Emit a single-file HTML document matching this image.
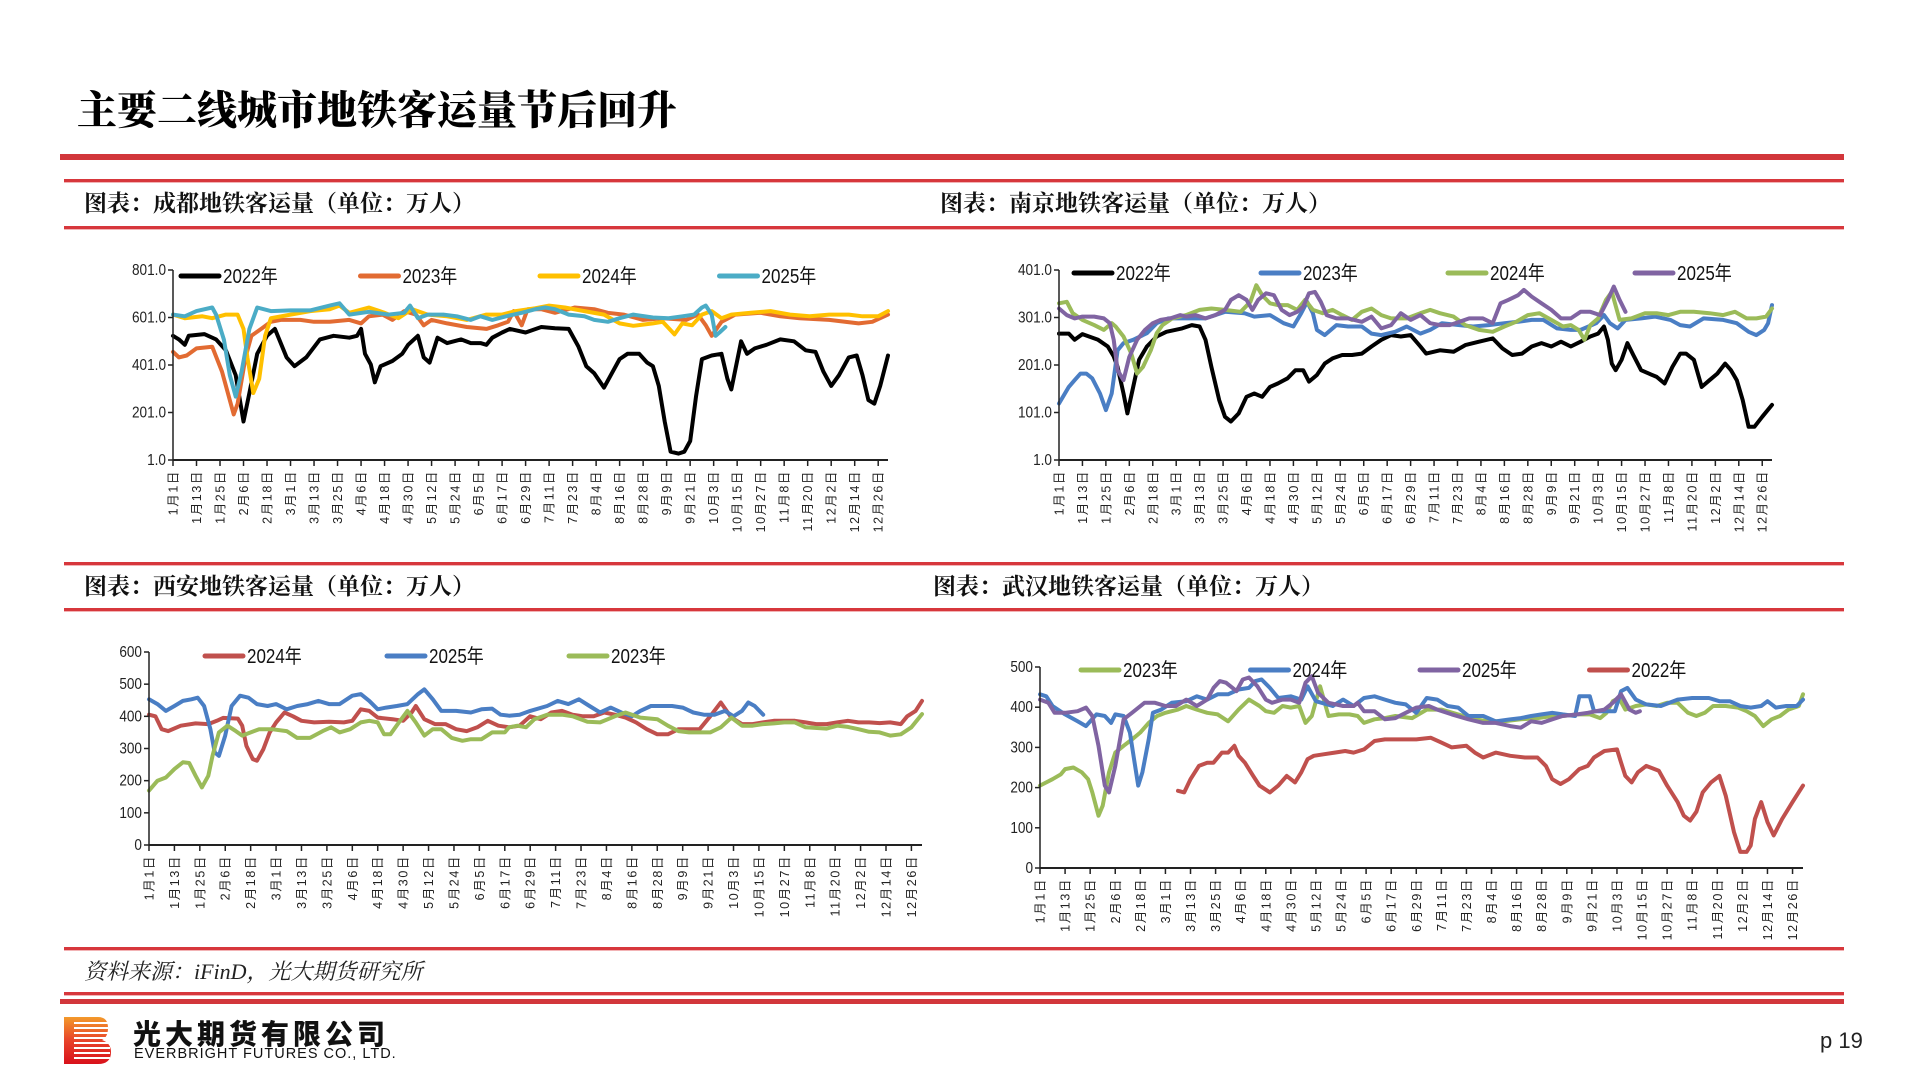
<!DOCTYPE html>
<html><head><meta charset="utf-8">
<style>
html,body{margin:0;padding:0;background:#fff;}
body{width:1920px;height:1080px;position:relative;overflow:hidden;font-family:"Liberation Sans","Noto Sans CJK SC",sans-serif;}
.abs{position:absolute;}
.rl{position:absolute;background:#D7373C;height:3px;box-shadow:0 1px 0 #f2b3b5;}
.ct{position:absolute;font-family:"Liberation Serif","Noto Serif CJK SC",serif;font-weight:bold;font-size:23px;line-height:26px;color:#111;}
</style></head>
<body>
<div class="abs" style="left:77px;top:88px;font-family:'Liberation Serif','Noto Serif CJK SC',serif;font-weight:900;font-size:40px;line-height:46px;color:#000;">主要二线城市地铁客运量节后回升</div>
<div class="abs" style="left:60px;top:154px;width:1784px;height:6px;background:#D2363B;"></div>
<div class="rl" style="left:64px;top:179px;width:1780px;"></div>
<div class="rl" style="left:64px;top:226px;width:1780px;"></div>
<div class="rl" style="left:64px;top:562px;width:1780px;"></div>
<div class="rl" style="left:64px;top:608px;width:1780px;"></div>
<div class="rl" style="left:64px;top:947px;width:1780px;"></div>
<div class="rl" style="left:64px;top:992px;width:1780px;"></div>
<div class="abs" style="left:60px;top:999px;width:1784px;height:5px;background:#D2363B;"></div>
<div class="ct" style="left:84px;top:191px;">图表：成都地铁客运量（单位：万人）</div>
<div class="ct" style="left:940px;top:191px;">图表：南京地铁客运量（单位：万人）</div>
<div class="ct" style="left:84px;top:574px;">图表：西安地铁客运量（单位：万人）</div>
<div class="ct" style="left:933px;top:574px;">图表：武汉地铁客运量（单位：万人）</div>
<div class="abs" style="left:84px;top:959px;font-style:italic;font-size:22px;line-height:26px;color:#222;font-family:'Liberation Serif','Noto Serif CJK SC',serif;">资料来源：iFinD，光大期货研究所</div>
<svg class="abs" style="left:64px;top:1017px;" width="48" height="47" viewBox="0 0 48 47">
<defs><linearGradient id="lg" x1="0" y1="0" x2="0" y2="1"><stop offset="0" stop-color="#F39A2B"/><stop offset="0.5" stop-color="#E8432A"/><stop offset="1" stop-color="#D8111B"/></linearGradient></defs>
<path d="M0 0H34Q44 0 44 11Q44 20 38 23Q47 26 47 35Q47 47 34 47H0Z" fill="url(#lg)"/>
<g fill="#fff"><rect x="10" y="5" width="36" height="2"/><rect x="10" y="10" width="36" height="2"/><rect x="10" y="15" width="36" height="2"/><rect x="10" y="20" width="36" height="2"/><rect x="10" y="25" width="36" height="2"/><rect x="10" y="30" width="36" height="2"/><rect x="10" y="35" width="36" height="2"/><rect x="10" y="40" width="36" height="2"/></g>
</svg>
<div class="abs" style="left:133px;top:1018px;font-family:'Noto Sans CJK SC',sans-serif;font-weight:900;font-size:28px;line-height:30px;color:#111;letter-spacing:4px;">光大期货有限公司</div>
<div class="abs" style="left:134px;top:1046px;font-size:14.5px;line-height:16px;color:#111;letter-spacing:1px;">EVERBRIGHT FUTURES CO., LTD.</div>
<div class="abs" style="left:1820px;top:1028px;font-family:'Liberation Sans Narrow','Liberation Sans',sans-serif;font-size:22px;color:#222;">p 19</div>

<svg id="charts" class="abs" style="left:0;top:0;" width="1920" height="1080"></svg>

<script>
// ---- shared ----
const tickLabels = ["1月1日","1月13日","1月25日","2月6日","2月18日","3月1日","3月13日","3月25日","4月6日","4月18日","4月30日","5月12日","5月24日","6月5日","6月17日","6月29日","7月11日","7月23日","8月4日","8月16日","8月28日","9月9日","9月21日","10月3日","10月15日","10月27日","11月8日","11月20日","12月2日","12月14日","12月26日"];

// ---- Chengdu ----
const cdYTicks = [1, 201, 401, 601, 801];
const cdYLabels = ["1.0","201.0","401.0","601.0","801.0"];
const cdSeriesNames = ["2022年","2023年","2024年","2025年"];
const cd22Days = [0,3,6,8,16,22,27,32,36,39,43,48,52,58,62,68,75,82,90,94,96,98,101,103,106,112,117,120,125,128,131,135,140,147,152,157,160,163,168,172,180,188,195,202,207,211,215,220,224,228,232,238,242,245,248,251,254,258,261,264,267,270,275,280,283,285,290,293,297,303,310,317,323,328,332,336,340,345,349,352,355,358,361,365];
const cd22Vals = [524,509,486,524,531,509,463,358,163,283,448,524,553,433,396,433,509,524,516,524,553,448,403,328,396,418,448,486,524,433,411,516,493,509,493,493,486,516,538,553,538,561,556,553,478,396,366,306,366,426,448,448,411,396,313,163,36,28,36,81,268,426,441,448,343,298,501,448,471,486,509,501,463,456,373,313,358,433,441,358,253,238,313,441];
const cd23Days = [0,3,7,12,20,25,29,31,33,37,40,45,50,55,65,72,80,90,96,100,107,112,118,124,128,132,140,150,160,166,171,174,178,181,188,195,205,215,222,230,240,250,262,268,272,275,280,287,300,310,320,335,350,357,365];
const cd23Vals = [456,433,441,471,478,373,253,193,238,433,524,553,583,591,591,583,583,591,576,606,613,591,628,613,568,591,576,561,553,568,583,628,568,636,636,621,643,636,621,613,591,598,591,613,568,524,583,613,621,606,598,591,576,583,613];
const cd24Days = [0,6,15,20,27,33,36,38,41,44,47,50,60,70,80,85,90,100,108,115,122,130,140,150,160,168,175,185,192,200,210,220,228,235,245,250,256,260,265,270,275,280,285,295,305,315,325,335,345,352,360,365];
const cd24Vals = [613,598,606,598,613,613,553,433,283,343,524,598,613,628,636,651,621,643,621,598,636,613,606,591,613,613,628,640,651,643,628,613,576,566,576,583,530,576,568,613,628,598,613,621,628,613,606,613,613,606,606,628];
const cd25Days = [0,6,12,20,22,26,29,32,35,39,43,50,60,70,80,85,90,100,110,118,121,125,130,138,145,152,157,163,170,178,185,190,195,202,210,215,222,228,235,245,253,260,266,270,272,275,277,279,282];
const cd25Vals = [613,606,628,643,613,508,358,268,373,553,643,628,631,631,651,661,613,625,613,621,651,598,613,613,606,591,606,591,606,621,636,643,636,613,606,591,583,598,613,601,598,606,613,643,651,613,524,538,561];

// ---- Nanjing ----
const njYTicks = [1,101,201,301,401];
const njYLabels = ["1.0","101.0","201.0","301.0","401.0"];
const njSeriesNames = ["2022年","2023年","2024年","2025年"];
const nj22Days = [0,5,8,12,20,25,28,30,33,35,38,41,45,50,55,63,68,72,75,78,82,85,88,92,96,100,104,108,112,117,121,125,128,132,136,140,145,150,155,160,165,170,175,180,185,188,195,202,208,215,222,227,232,237,242,247,252,257,262,267,272,276,279,281,283,285,288,291,294,298,302,306,310,314,318,321,325,329,333,337,341,344,347,350,353,356,360,365];
const nj22Vals = [267,267,254,266,254,240,219,197,141,99,155,212,240,261,271,278,285,282,254,197,127,92,82,99,134,141,134,155,162,173,190,190,166,180,204,215,222,222,225,240,254,264,261,264,240,225,232,229,243,250,257,236,222,225,240,247,240,250,240,250,261,267,282,254,204,190,212,247,222,190,183,176,162,197,225,225,212,155,169,183,204,190,169,127,71,71,92,117];
const nj23Days = [0,3,5,8,11,14,17,21,24,27,30,33,38,45,50,56,65,75,85,95,100,108,115,120,124,127,130,132,136,142,148,155,160,165,172,178,185,190,196,205,212,220,228,235,242,248,255,262,267,275,279,282,286,290,298,305,313,318,323,330,340,347,353,357,361,363,365];
const nj23Vals = [120,141,155,169,183,183,173,141,106,141,232,247,254,268,289,299,299,299,313,310,303,306,289,282,310,334,310,275,264,285,282,282,267,264,271,282,267,275,289,285,282,285,289,292,296,296,278,275,275,289,306,289,278,296,299,303,296,285,282,299,296,289,271,264,275,289,327];
const nj24Days = [0,4,7,12,18,23,27,29,33,37,40,43,47,50,53,58,65,72,78,85,93,98,101,104,108,112,117,122,126,130,135,140,145,150,155,160,165,170,178,185,190,195,202,208,215,222,228,234,240,246,252,258,262,266,269,272,276,280,283,287,293,300,306,312,318,325,333,340,346,352,357,362,365];
const nj24Vals = [331,334,310,296,285,275,289,282,261,225,183,197,232,268,285,299,306,317,320,317,313,334,369,348,331,327,327,317,338,317,310,317,306,296,313,320,306,299,299,310,317,310,303,285,275,271,282,292,306,310,296,282,285,275,254,285,299,338,355,296,299,310,310,306,313,313,310,306,313,299,299,303,320];
const nj25Days = [0,4,8,12,18,23,26,28,30,33,36,40,44,48,52,57,62,65,70,75,80,85,88,92,96,99,102,106,110,114,118,122,125,128,131,134,137,142,148,155,160,165,170,175,180,185,190,195,200,210,217,222,226,230,235,238,242,247,252,257,262,267,272,277,281,284,287,290];
const nj25Vals = [320,306,299,303,303,299,289,254,190,169,218,254,275,289,296,299,306,303,306,299,306,317,338,348,338,317,338,352,348,317,306,313,324,352,355,334,306,299,299,292,303,278,285,310,296,306,289,285,285,299,299,289,331,338,348,359,345,331,317,299,299,313,313,306,338,366,338,313];

// ---- Xi'an ----
const xaYTicks = [0,100,200,300,400,500,600];
const xaYLabels = ["0","100","200","300","400","500","600"];
const xaSeriesNames = ["2024年","2025年","2023年"];
const xa24Days = [0,3,6,9,15,22,28,32,35,42,44,46,49,51,54,57,60,64,68,72,78,85,92,96,100,104,108,115,120,124,126,130,135,140,145,150,155,160,165,170,175,180,185,190,195,200,205,210,215,220,225,230,235,240,245,250,255,260,265,270,275,280,285,290,295,300,305,310,315,320,325,330,335,340,345,350,355,358,362,365];
const xa24Vals = [405,400,360,354,371,378,376,386,395,393,371,308,267,262,298,350,381,412,400,386,381,383,381,386,422,417,396,391,386,412,432,391,376,376,360,354,366,386,371,366,371,400,391,412,417,405,400,400,412,405,396,381,360,344,344,360,360,360,400,443,396,376,376,381,386,386,386,381,376,376,381,386,381,381,379,381,376,400,417,448];
const xa25Days = [0,4,8,12,16,20,23,26,29,31,33,36,39,43,47,51,56,60,65,70,75,80,85,90,96,100,104,108,112,117,122,127,130,134,138,145,152,157,162,166,170,175,180,188,193,198,203,208,213,218,223,228,232,237,242,247,252,257,262,267,272,276,280,283,286,290];
const xa25Vals = [453,438,417,432,448,453,458,432,360,288,277,340,432,464,458,438,432,438,422,432,438,448,438,438,464,469,448,422,427,432,438,469,484,453,417,417,412,422,424,405,402,405,417,432,448,438,453,432,412,427,412,400,417,432,432,432,427,412,405,405,417,400,417,443,432,405];
const xa23Days = [0,4,8,12,16,19,22,25,28,30,33,37,41,44,48,52,58,65,70,76,82,86,90,95,100,104,108,111,114,118,122,126,130,134,138,143,148,152,157,162,168,170,174,178,182,188,195,200,207,213,220,225,232,240,245,250,255,260,265,270,275,280,285,290,295,300,305,310,320,325,330,335,340,345,350,355,360,365];
const xa23Vals = [169,200,210,236,257,255,215,179,215,277,350,371,354,340,350,360,360,354,333,333,354,366,350,360,381,386,381,344,344,381,417,381,340,360,360,333,324,329,329,350,350,366,371,366,391,405,405,400,383,381,400,412,396,391,371,354,350,350,350,366,396,371,371,376,378,381,381,366,362,371,367,360,352,350,340,344,366,407];

// ---- Wuhan ----
const whYTicks = [0,100,200,300,400,500];
const whYLabels = ["0","100","200","300","400","500"];
const whSeriesNames = ["2023年","2024年","2025年","2022年"];
const wh23Days = [0,3,6,10,12,16,20,23,25,28,30,33,36,40,44,48,52,56,60,66,70,75,80,85,90,95,100,105,108,112,116,120,124,127,130,134,138,143,148,152,155,160,165,170,178,185,192,200,208,215,222,230,238,245,250,257,263,268,271,274,277,280,285,290,295,300,305,310,314,318,322,328,334,338,342,346,350,354,358,363,365];
const wh23Vals = [205,213,221,233,246,250,238,221,188,130,155,238,287,304,320,337,361,378,386,394,403,394,386,382,365,394,419,403,390,386,403,399,403,361,378,452,378,382,382,378,361,370,373,378,373,394,394,382,370,365,365,370,373,378,378,382,382,373,386,415,423,394,403,407,403,411,411,386,378,386,403,403,399,390,378,353,370,378,394,403,432];
const wh24Days = [0,3,6,12,18,22,27,31,34,36,40,43,45,47,49,52,54,58,63,70,75,80,85,90,95,100,103,106,110,114,120,125,128,132,140,145,150,155,160,165,170,175,180,185,190,195,200,205,212,218,225,230,235,240,245,250,256,258,263,265,270,275,278,281,285,290,297,305,312,320,325,330,335,340,345,348,352,357,362,365];
const wh24Vals = [432,427,403,382,365,353,382,378,361,382,378,337,270,205,238,320,386,394,411,415,427,419,432,432,444,448,465,469,448,423,427,419,452,415,403,419,403,423,427,419,411,407,386,423,419,403,399,378,378,365,370,373,378,382,386,382,378,427,427,390,390,390,440,448,419,407,403,419,423,423,415,415,403,399,403,415,399,403,403,419];
const wh25Days = [0,4,7,12,18,22,25,28,31,33,36,40,44,50,55,60,65,70,75,80,83,86,89,94,97,100,104,108,111,116,120,124,127,130,133,138,145,150,152,155,160,165,170,175,180,186,190,197,205,212,218,225,230,235,240,245,250,257,262,266,270,274,278,282,285,287];
const wh25Vals = [419,411,386,386,390,399,378,304,205,188,254,370,386,411,411,403,403,419,403,419,448,465,461,440,469,474,452,419,411,419,419,411,461,477,436,411,403,403,411,390,390,370,373,386,399,403,394,382,370,361,361,353,349,365,361,370,378,382,386,390,394,411,432,394,386,390];
const wh22Days = [66,69,72,76,80,83,87,90,93,95,98,102,105,110,114,118,122,125,128,131,136,141,146,150,155,160,165,170,180,187,192,197,204,208,212,218,225,232,238,242,245,249,253,258,262,265,270,276,278,280,283,286,290,292,296,300,305,308,311,314,317,321,325,328,332,335,338,340,342,345,348,351,355,360,365];
const wh22Vals = [192,188,221,254,262,262,287,287,304,279,262,229,205,188,205,229,213,238,271,279,283,287,291,287,295,316,320,320,320,324,312,300,304,287,275,287,279,275,275,254,221,209,221,246,254,275,291,295,262,229,213,238,254,250,242,205,164,130,118,140,188,213,229,180,89,40,40,56,122,164,114,81,122,164,205];

// ---- drawing ----
const NS = "http://www.w3.org/2000/svg";
const svg = document.getElementById("charts");
function mk(tag, attrs, parent) {
  const e = document.createElementNS(NS, tag);
  for (const k in attrs) e.setAttribute(k, attrs[k]);
  (parent || svg).appendChild(e);
  return e;
}
function drawChart(cfg) {
  const g = mk("g", {});
  
  
  const xs = d => cfg.x0 + (cfg.x1 - cfg.x0) * d / 365;
  const ys = v => cfg.yBot - (cfg.yBot - cfg.yTop) * (v - cfg.yMin) / (cfg.yMax - cfg.yMin);
  cfg.series.forEach((s, i) => {
    let d = "";
    s.days.forEach((dd, j) => { d += (j ? "L" : "M") + xs(dd).toFixed(1) + " " + ys(s.vals[j]).toFixed(1); });
    const p = mk("path", {d: d, fill: "none", stroke: s.color, "stroke-width": 4, "stroke-linejoin": "round", "stroke-linecap": "round"}, g);
    
    
  });
  const ya = mk("line", {x1: cfg.x0, y1: cfg.yTop, x2: cfg.x0, y2: cfg.yBot, stroke: "#222", "stroke-width": 1.5}, g);
  
  
  const xa = mk("line", {x1: cfg.x0, y1: cfg.yBot, x2: cfg.x1, y2: cfg.yBot, stroke: "#222", "stroke-width": 2}, g);
  
  
  cfg.yTicks.forEach((v, i) => {
    const y = ys(v);
    mk("line", {x1: cfg.x0 - 5, y1: y, x2: cfg.x0, y2: y, stroke: "#222", "stroke-width": 1.5}, g);
    const t = mk("text", {x: cfg.x0 - 7, y: y + 5, "text-anchor": "end", "font-size": 16, fill: "#222", "font-family": "'Liberation Sans Narrow','Liberation Sans',sans-serif", transform: "translate(" + (cfg.x0 - 7) * 0.15 + " 0) scale(0.85 1)"}, g);
    
    
    t.textContent = cfg.yLabels[i];
  });
  tickLabels.forEach((lab, i) => {
    const x = xs(i * 12);
    mk("line", {x1: x, y1: cfg.yBot, x2: x, y2: cfg.yBot + 6, stroke: "#222", "stroke-width": 1.5}, g);
    const t = mk("text", {transform: "translate(" + (x + 4.5) + " " + (cfg.yBot + 10) + ") rotate(-90)", "text-anchor": "end", "font-size": 12.5, "letter-spacing": 1.6, fill: "#222", "font-family": "'Liberation Sans','Noto Sans CJK SC',sans-serif"}, g);
    
    
    t.textContent = lab;
  });
  cfg.series.forEach((s, i) => {
    const lx = cfg.legX + i * cfg.legGap;
    const lg = mk("g", {}, g);
    
    
    mk("line", {x1: lx, y1: cfg.legY, x2: lx + 38, y2: cfg.legY, stroke: s.color, "stroke-width": 5, "stroke-linecap": "round"}, lg);
    const t = mk("text", {x: (lx + 42) / 0.85, y: cfg.legY + 7, "font-size": 20, fill: "#111", transform: "scale(0.85 1)", "font-family": "'Liberation Sans Narrow','Liberation Sans','Noto Sans CJK SC',sans-serif"}, lg);
    t.textContent = s.name;
  });
}

drawChart({name: "chengdu-chart", x0: 173, x1: 888, yTop: 270, yBot: 460, yMin: 1, yMax: 801,
  yTicks: cdYTicks, yLabels: cdYLabels, legX: 181, legY: 276, legGap: 179.5,
  series: [
    {name: cdSeriesNames[0], color: "#000000", days: cd22Days, vals: cd22Vals},
    {name: cdSeriesNames[1], color: "#E26B32", days: cd23Days, vals: cd23Vals},
    {name: cdSeriesNames[2], color: "#FFC000", days: cd24Days, vals: cd24Vals},
    {name: cdSeriesNames[3], color: "#4BACC6", days: cd25Days, vals: cd25Vals}]});
drawChart({name: "nanjing-chart", x0: 1059, x1: 1772, yTop: 270, yBot: 460, yMin: 1, yMax: 401,
  yTicks: njYTicks, yLabels: njYLabels, legX: 1074, legY: 273, legGap: 187,
  series: [
    {name: njSeriesNames[0], color: "#000000", days: nj22Days, vals: nj22Vals},
    {name: njSeriesNames[1], color: "#4A7EC4", days: nj23Days, vals: nj23Vals},
    {name: njSeriesNames[2], color: "#9BBB59", days: nj24Days, vals: nj24Vals},
    {name: njSeriesNames[3], color: "#8064A2", days: nj25Days, vals: nj25Vals}]});
drawChart({name: "xian-chart", x0: 149, x1: 922, yTop: 652, yBot: 845, yMin: 0, yMax: 600,
  yTicks: xaYTicks, yLabels: xaYLabels, legX: 205, legY: 656, legGap: 182,
  series: [
    {name: xaSeriesNames[0], color: "#C0504D", days: xa24Days, vals: xa24Vals},
    {name: xaSeriesNames[1], color: "#4A7EC4", days: xa25Days, vals: xa25Vals},
    {name: xaSeriesNames[2], color: "#9BBB59", days: xa23Days, vals: xa23Vals}]});
drawChart({name: "wuhan-chart", x0: 1040, x1: 1803, yTop: 667, yBot: 868, yMin: 0, yMax: 500,
  yTicks: whYTicks, yLabels: whYLabels, legX: 1081, legY: 670, legGap: 169.5,
  series: [
    {name: whSeriesNames[0], color: "#9BBB59", days: wh23Days, vals: wh23Vals},
    {name: whSeriesNames[1], color: "#4A7EC4", days: wh24Days, vals: wh24Vals},
    {name: whSeriesNames[2], color: "#8064A2", days: wh25Days, vals: wh25Vals},
    {name: whSeriesNames[3], color: "#C0504D", days: wh22Days, vals: wh22Vals}]});
</script>
</body></html>
